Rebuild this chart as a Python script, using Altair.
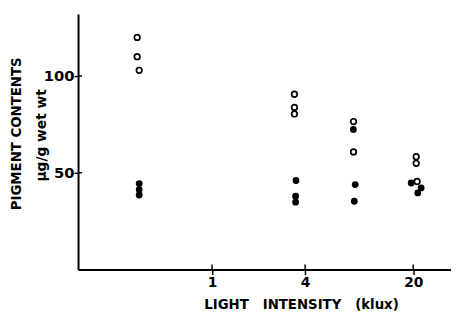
import altair as alt
import pandas as pd

# Open circles (one pigment) and filled circles (other pigment)
open_x = [0.328, 0.328, 0.338, 3.41, 3.41, 3.41, 8.65, 8.22, 8.22, 20.9, 20.9, 21.2]
open_y = [120, 110, 103, 90.6, 83.8, 80.4, 138, 76.5, 60.8, 58.3, 54.9, 45.5]
filled_x = [0.338, 0.338, 0.338, 3.49, 3.47, 3.47, 8.2, 8.43, 8.32, 19.4, 22.5, 21.4]
filled_y = [44.4, 41.3, 38.5, 46.0, 37.9, 34.8, 72.4, 43.9, 35.3, 44.7, 42.2, 39.6]
x_ticks = [1, 4, 20]
y_ticks = [50, 100]

W, H = 378, 259
NB = "\u00a0"
x_title = "LIGHT" + NB * 3 + "INTENSITY" + NB * 3 + "(klux)"
units = "\u00b5g/g wet wt"

df_open = pd.DataFrame({"klux": open_x, "v": open_y})
df_filled = pd.DataFrame({"klux": filled_x, "v": filled_y})
df_xt = pd.DataFrame({"klux": x_ticks})
df_yt = pd.DataFrame({"v": y_ticks})

xs = alt.Scale(type="log", domain=[0.136, 35.1], nice=False)
ys = alt.Scale(domain=[0, 132.1], nice=False, zero=False)

X = alt.X("klux:Q", scale=xs, axis=alt.Axis(
    values=x_ticks, format="d", title=x_title, grid=False,
    tickSize=5, labelPadding=1, labelFontSize=14,
    titleFontSize=13.5, titleX=226, titleY=40, titleAlign="center",
    titleBaseline="alphabetic"))
Y = alt.Y("v:Q", scale=ys, axis=alt.Axis(
    values=y_ticks, title="PIGMENT CONTENTS", grid=False,
    tickSize=4, labelPadding=0, labelFontSize=15,
    titleFontSize=13.5, titleX=-62, titleY=121, titleAngle=270,
    titleAlign="center", titleBaseline="middle"))

opn = alt.Chart(df_open).mark_point(
    shape="circle", filled=False, stroke="black", strokeWidth=1.7, size=32, opacity=1
).encode(x=X, y=Y)

fil = alt.Chart(df_filled).mark_circle(
    color="black", size=48, opacity=1
).encode(x=X, y=Y)

xt = alt.Chart(df_xt).mark_rule(color="black", strokeWidth=1.5).encode(
    x=alt.X("klux:Q", scale=xs), y=alt.value(H - 5), y2=alt.value(H))
yt = alt.Chart(df_yt).mark_rule(color="black", strokeWidth=1.5).encode(
    y=alt.Y("v:Q", scale=ys), x=alt.value(0), x2=alt.value(4))

unit_txt = alt.Chart(pd.DataFrame({"t": [units]})).mark_text(
    angle=270, font="DejaVu Sans", fontWeight="bold", fontSize=14,
    color="black", align="center", baseline="middle"
).encode(x=alt.value(-36), y=alt.value(123), text="t:N")

chart = alt.layer(opn, fil, xt, yt, unit_txt).properties(
    width=W, height=H,
    autosize=alt.AutoSizeParams(type="none"),
    padding={"left": 71, "top": 4, "right": 0, "bottom": 40},
    background="white",
).configure_view(stroke=None).configure_axis(
    domainColor="black", domainWidth=2, tickColor="black", tickWidth=1.5,
    labelFont="DejaVu Sans", labelFontWeight="bold", labelColor="black",
    titleFont="DejaVu Sans", titleFontWeight="bold", titleColor="black",
)

chart.save("out.html", embed_options={"renderer": "svg", "actions": False})
